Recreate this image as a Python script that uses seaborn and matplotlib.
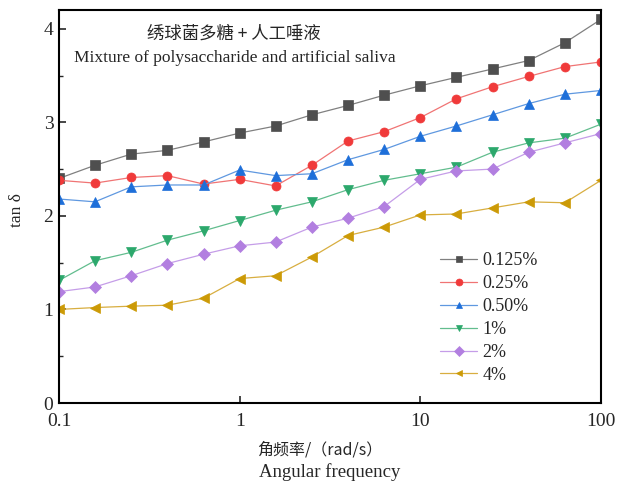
import numpy as np
import pandas as pd
import matplotlib
matplotlib.use("Agg")
import matplotlib.pyplot as plt
from matplotlib.ticker import FixedLocator, FixedFormatter, NullLocator, MultipleLocator
import seaborn as sns

freq = [0.1, 0.158, 0.251, 0.398, 0.631, 1.0, 1.58, 2.51, 3.98, 6.31,
        10.0, 15.8, 25.1, 39.8, 63.1, 100.0]
s0125 = [2.40, 2.54, 2.66, 2.70, 2.79, 2.885, 2.96, 3.08, 3.18, 3.29, 3.39, 3.48, 3.57, 3.66, 3.85, 4.10]
s025 = [2.38, 2.35, 2.41, 2.43, 2.34, 2.39, 2.32, 2.54, 2.80, 2.90, 3.05, 3.25, 3.38, 3.49, 3.595, 3.645]
s050 = [2.18, 2.15, 2.31, 2.33, 2.33, 2.49, 2.43, 2.45, 2.60, 2.71, 2.85, 2.96, 3.08, 3.20, 3.30, 3.34]
s1 = [1.31, 1.52, 1.61, 1.74, 1.84, 1.95, 2.06, 2.15, 2.28, 2.38, 2.45, 2.52, 2.68, 2.78, 2.83, 2.98]
s2 = [1.19, 1.24, 1.36, 1.49, 1.59, 1.68, 1.72, 1.88, 1.975, 2.10, 2.39, 2.48, 2.50, 2.68, 2.78, 2.88]
s4 = [1.00, 1.02, 1.035, 1.045, 1.12, 1.33, 1.36, 1.56, 1.79, 1.88, 2.01, 2.02, 2.085, 2.15, 2.14, 2.38]

labels = ["0.125%", "0.25%", "0.50%", "1%", "2%", "4%"]
series = [s0125, s025, s050, s1, s2, s4]
marker_colors = ["#4f4f4f", "#f03a3a", "#1e6fd9", "#2ca86c", "#b27fe0", "#cc9a06"]
line_colors = ["#808080", "#f07474", "#5f98e0", "#62bd8e", "#c59de8", "#d8ae40"]
markers = ["s", "o", "^", "v", "D", "<"]
msizes = [6.5, 6.5, 7.5, 7.5, 6, 7.5]

xticks = [0.1, 1, 10, 100]
xticklabels = ["0.1", "1", "10", "100"]
yticks = [0, 1, 2, 3, 4]

df = pd.DataFrame({
    "freq": np.tile(freq, len(labels)),
    "tan": np.concatenate(series),
    "conc": np.repeat(labels, len(freq)),
})

sns.set_style("ticks")
plt.rcParams["font.family"] = ["Liberation Serif", "Noto Sans CJK SC", "DejaVu Sans"]

fig = plt.figure(figsize=(6.32, 4.84), dpi=100)
ax = fig.add_axes([59 / 632, 1 - 403 / 484, (601 - 59) / 632, (403 - 10) / 484])

sns.lineplot(data=df, x="freq", y="tan", hue="conc", style="conc",
             hue_order=labels, style_order=labels,
             palette=dict(zip(labels, marker_colors)),
             markers=dict(zip(labels, markers)), dashes=False,
             linewidth=0.9, markeredgewidth=0.5, ax=ax, legend=True)

for i, ln in enumerate(ax.get_lines()[:len(labels)]):
    ln.set_color(line_colors[i])
    ln.set_markerfacecolor(marker_colors[i])
    ln.set_markeredgecolor(marker_colors[i])
    ln.set_markersize(msizes[i])

ax.set_xscale("log")
ax.set_xlim(0.1, 100)
ax.set_ylim(0, 4.2)
ax.xaxis.set_major_locator(FixedLocator(xticks))
ax.xaxis.set_major_formatter(FixedFormatter(xticklabels))
ax.xaxis.set_minor_locator(NullLocator())
ax.yaxis.set_major_locator(FixedLocator(yticks))
ax.yaxis.set_minor_locator(MultipleLocator(0.5))
ax.tick_params(axis="both", which="major", direction="in", length=5, width=1.2,
               labelsize=14)
ax.tick_params(axis="x", which="major", pad=7)
ax.tick_params(axis="y", which="major", pad=4)
ax.tick_params(axis="y", which="minor", direction="in", length=3, width=1.0)
for sp in ax.spines.values():
    sp.set_linewidth(1.5)
    sp.set_color("black")
    sp.set_visible(True)

ax.set_xlabel("")
ax.set_ylabel("")
fig.text(17 / 632, 1 - 210 / 484, "tan δ", rotation=90, ha="center", va="center", fontsize=12.5)
fig.text(257 / 632, 1 - 450 / 484, "角频率/（rad/s）", ha="left", va="center", fontsize=11.5,
         family=["Noto Sans CJK SC", "Liberation Serif"])
fig.text(330 / 632, 1 - 472 / 484, "Angular frequency", ha="center", va="center", fontsize=13.5)

ax.text(0.323, 0.941, "绣球菌多糖 + 人工唾液", transform=ax.transAxes, ha="center", va="center",
        fontsize=12.5, family=["Noto Sans CJK SC", "Liberation Serif"])
ax.text(0.325, 0.878, "Mixture of polysaccharide and artificial saliva", transform=ax.transAxes,
        ha="center", va="center", fontsize=12.5)

handles, labs = ax.get_legend_handles_labels()
for i, h in enumerate(handles):
    h.set_color(line_colors[i])
    h.set_markerfacecolor(marker_colors[i])
    h.set_markeredgecolor(marker_colors[i])
    h.set_markersize(5)
    h.set_linewidth(0.9)
ax.legend(handles, labs, loc="upper left", bbox_to_anchor=((440 - 59) / 542, (403 - 252) / 393),
          frameon=False, borderpad=0, borderaxespad=0,
          fontsize=13, handlelength=2.05, handletextpad=0.3, labelspacing=0.33)

fig.savefig("out.png", dpi=100, facecolor="white")
